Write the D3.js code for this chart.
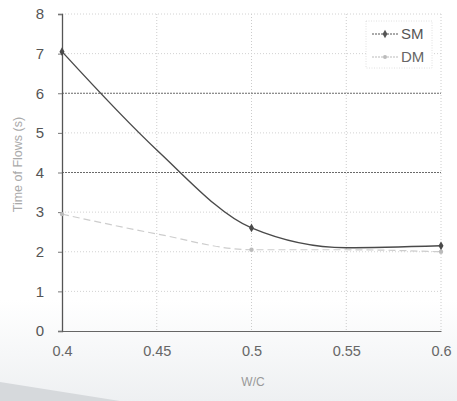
<!DOCTYPE html>
<html>
<head>
<meta charset="utf-8">
<script src="https://cdn.jsdelivr.net/npm/d3@7"></script>
<style>
  html, body { margin: 0; padding: 0; background: #fff; }
  svg { display: block; }
</style>
</head>
<body>
<svg id="chart" width="457" height="401"></svg>
<script>
// Water/cement ratio on the x axis
const wc = [0.4, 0.45, 0.5, 0.55, 0.6];
// Time of flow for each mixing method
const smValues = [7.05, 4.57, 2.6, 2.1, 2.15];
const dmValues = [2.95, 2.45, 2.05, 2.05, 2.0];
const xTicks = [0.4, 0.45, 0.5, 0.55, 0.6];
const xTickLabels = ["0.4", "0.45", "0.5", "0.55", "0.6"];
const yTicks = [0, 1, 2, 3, 4, 5, 6, 7, 8];
const seriesNames = ["SM", "DM"];

const svg = d3.select("#chart");
const font = "Liberation Sans, Arial, sans-serif";

// faint shading along the lower edge
const defs = svg.append("defs");
const grad = defs.append("linearGradient").attr("id", "shade")
  .attr("x1", 0).attr("y1", 0).attr("x2", 0).attr("y2", 1);
grad.append("stop").attr("offset", "0").attr("stop-color", "#fff");
grad.append("stop").attr("offset", "1").attr("stop-color", "#eef0f2");
svg.append("rect").attr("x", 0).attr("y", 300).attr("width", 457).attr("height", 101)
  .attr("fill", "url(#shade)");
svg.append("path").attr("d", "M0,382 L120,401 L0,401 Z").attr("fill", "#d6d9dc");

const x = d3.scaleLinear().domain([0.4, 0.6]).range([62, 441]);
const y = d3.scaleLinear().domain([0, 8]).range([331, 14]);

// vertical gridlines
svg.append("g").selectAll("line").data(xTicks.slice(1)).join("line")
  .attr("x1", d => x(d)).attr("x2", d => x(d))
  .attr("y1", y(8)).attr("y2", y(0))
  .attr("stroke", "#cccccc").attr("stroke-width", 1)
  .attr("stroke-dasharray", "1,2");

// horizontal gridlines
svg.append("g").selectAll("line").data(yTicks.slice(1)).join("line")
  .attr("x1", x(0.4)).attr("x2", x(0.6))
  .attr("y1", d => y(d)).attr("y2", d => y(d))
  .attr("stroke", d => (d === 4 || d === 6) ? "#6a6a6a" : "#d2d2d2")
  .attr("stroke-width", d => (d === 4 || d === 6) ? 1.2 : 1)
  .attr("stroke-dasharray", d => (d === 4 || d === 6) ? "2,1" : "1,2");

// y axis
const yAxis = d3.axisLeft(y).tickValues(yTicks).tickSize(4).tickPadding(14).tickFormat(d3.format("d"));
const gy = svg.append("g").attr("transform", `translate(${x(0.4)},0)`).call(yAxis);
gy.select(".domain").attr("stroke", "#555").attr("stroke-width", 1.3);
gy.selectAll(".tick line").attr("stroke", "#777");
gy.selectAll(".tick text").attr("fill", "#555").style("font-family", font).style("font-size", "15px");

// x axis
const xAxis = d3.axisBottom(x).tickValues(xTicks).tickSize(0).tickPadding(15)
  .tickFormat((d, i) => xTickLabels[i]);
const gx = svg.append("g").attr("transform", `translate(0,${y(0)})`).call(xAxis);
gx.select(".domain").attr("stroke", "#666").attr("stroke-width", 1.2);
gx.selectAll(".tick text").attr("fill", "#666").style("font-family", font).style("font-size", "14.5px");

// axis titles
svg.append("text").attr("x", 253).attr("y", 386).attr("text-anchor", "middle")
  .attr("fill", "#999").style("font-family", font).style("font-size", "12px").text("W/C");
svg.append("text").attr("transform", `translate(22,${y(4.2)}) rotate(-90)`)
  .attr("text-anchor", "middle").attr("fill", "#aaa")
  .style("font-family", font).style("font-size", "12.5px").text("Time of Flows (s)");

// series
const line = d3.line().x(d => x(d[0])).y(d => y(d[1])).curve(d3.curveMonotoneX);
const dmPts = wc.map((d, i) => [d, dmValues[i]]);
const smPts = wc.map((d, i) => [d, smValues[i]]);

svg.append("path").datum(dmPts).attr("d", line).attr("fill", "none")
  .attr("stroke", "#cdcdcd").attr("stroke-width", 1.2).attr("stroke-dasharray", "7,4");
svg.append("g").selectAll("circle").data(dmPts.filter((d, i) => i % 2 === 0)).join("circle")
  .attr("cx", d => x(d[0])).attr("cy", d => y(d[1])).attr("r", 2.2).attr("fill", "#bbbbbb");

svg.append("path").datum(smPts).attr("d", line).attr("fill", "none")
  .attr("stroke", "#4a4a4a").attr("stroke-width", 1.4);
svg.append("g").selectAll("path").data(smPts.filter((d, i) => i % 2 === 0)).join("path")
  .attr("transform", d => `translate(${x(d[0])},${y(d[1])})`)
  .attr("d", d3.symbol(d3.symbolDiamond, 22)).attr("fill", "#4a4a4a");

// legend
const lg = svg.append("g");
lg.append("rect").attr("x", 366).attr("y", 21).attr("width", 66).attr("height", 47)
  .attr("fill", "#fff").attr("stroke", "#d8d8d8").attr("stroke-width", 0.8)
  .attr("stroke-dasharray", "1,1.5");
const legendColors = ["#555", "#bbb"];
seriesNames.forEach((name, i) => {
  const ly = 34 + i * 23;
  lg.append("line").attr("x1", 372).attr("x2", 398).attr("y1", ly).attr("y2", ly)
    .attr("stroke", legendColors[i]).attr("stroke-width", 1)
    .attr("stroke-dasharray", "2,1");
  if (i === 0) {
    lg.append("path").attr("transform", `translate(385,${ly})`)
      .attr("d", d3.symbol(d3.symbolDiamond, 20)).attr("fill", legendColors[i]);
  } else {
    lg.append("circle").attr("cx", 385).attr("cy", ly).attr("r", 2).attr("fill", legendColors[i]);
  }
  lg.append("text").attr("x", 401).attr("y", ly + 5).attr("fill", i === 0 ? "#555" : "#666")
    .style("font-family", font).style("font-size", "15px").text(name);
});
</script>
</body>
</html>
